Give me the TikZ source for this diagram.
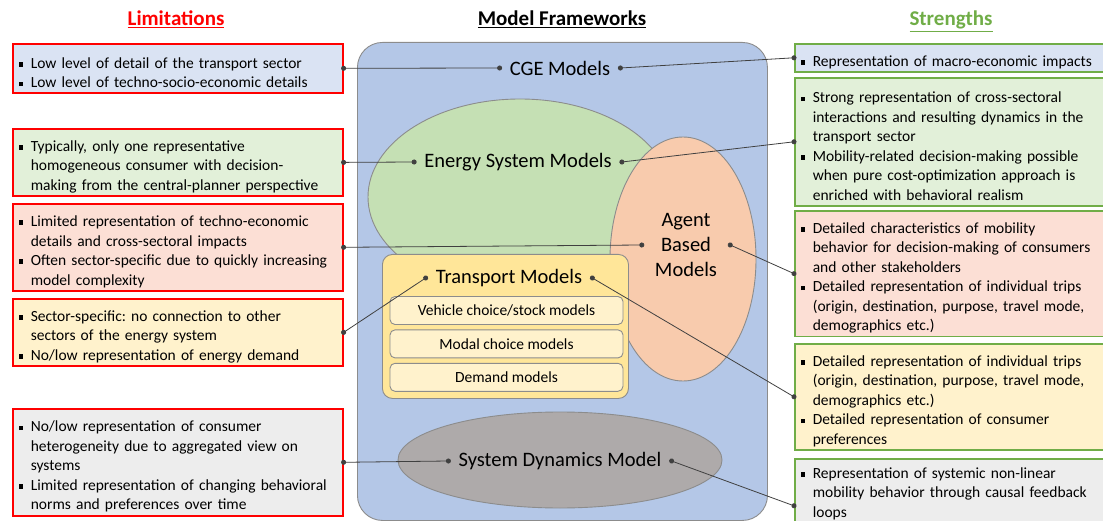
\documentclass[tikz,border=0pt]{standalone}
\usepackage{fontspec}
\setmainfont{Carlito}
\usepackage{xcolor}
\usepackage{tikz}
\usetikzlibrary{arrows.meta,positioning,shapes.geometric}
\frenchspacing
\definecolor{limred}{HTML}{FF0000}
\definecolor{strgreen}{HTML}{70AD47}
\definecolor{cgefill}{HTML}{DAE3F3}
\definecolor{esmfill}{HTML}{E2F0D9}
\definecolor{abmfill}{HTML}{FCDFD5}
\definecolor{tmfill}{HTML}{FFF2CC}
\definecolor{sdmfill}{HTML}{EDEDED}
\definecolor{frameblue}{HTML}{B4C7E7}
\definecolor{esmgreen}{HTML}{C5E0B4}
\definecolor{abmorange}{HTML}{F8CBAD}
\definecolor{tmyellow}{HTML}{FFE699}
\definecolor{sdmgray}{HTML}{AEAAAA}
\definecolor{edgegray}{HTML}{8C8C8C}
\definecolor{linkgray}{HTML}{404040}
% bullet line and indented continuation line
\newcommand{\bul}{\par\noindent\makebox[12pt][l]{\rule[1.6pt]{4.6pt}{4.6pt}}}
\newcommand{\cnt}{\par\noindent\hspace*{12pt}}

\begin{document}
\begin{tikzpicture}[
  x=1pt, y=-1pt,
  heading/.style={anchor=base, font=\fontsize{21}{25}\selectfont\bfseries},
  limbox/.style={rectangle, draw=limred, line width=1.6pt, anchor=north west,
                 text width=318pt, inner xsep=6pt, inner ysep=3pt, align=left,
                 font=\fontsize{15.5}{19.5}\selectfont},
  strbox/.style={limbox, draw=strgreen, text width=312pt},
  outline/.style={draw=edgegray, line width=0.9pt},
  model/.style={inner xsep=10pt, inner ysep=2pt, font=\fontsize{20.5}{25}\selectfont},
  sub/.style={rectangle, rounded corners=5pt, draw=edgegray, line width=0.9pt, fill=tmfill,
              minimum width=233pt, minimum height=28pt, inner sep=0pt,
              font=\fontsize{15.5}{19.5}\selectfont},
  link/.style={{Circle[length=5pt]}-{Circle[length=5pt]}, shorten <=-2.5pt, shorten >=-2.5pt,
               draw=linkgray, line width=0.8pt}
]
  \useasboundingbox (0,0) rectangle (1103,521);

  % headings
  \node[heading, text=limred] (hlim) at (176,26) {\underline{Limitations}};
  \node[heading] (hfw) at (562,26) {\underline{Model Frameworks}};
  \node[heading, text=strgreen] (hstr) at (951,26) {\underline{Strengths}};

  % model frameworks
  \node[outline, rectangle, rounded corners=25pt, fill=frameblue, anchor=north west,
        minimum width=410pt, minimum height=478pt] (fw) at (357,42) {};
  \node[outline, ellipse, fill=esmgreen, minimum width=304pt, minimum height=196pt] (esmshape) at (520,197) {};
  \node[outline, ellipse, fill=abmorange, minimum width=146pt, minimum height=244pt] (abmshape) at (683,259) {};
  \node[outline, rectangle, rounded corners=10pt, fill=tmyellow, anchor=north west,
        minimum width=246pt, minimum height=144pt] (tmshape) at (382,254) {};
  \node[outline, ellipse, fill=sdmgray, minimum width=324pt, minimum height=96pt] (sdmshape) at (560,460) {};

  \node[model] (cge) at (560,68) {CGE Models};
  \node[model] (esm) at (518,162) {Energy System Models};
  \node[model, align=center, inner xsep=13pt] (abm) at (686,245) {Agent\\Based\\Models};
  \node[model] (tm) at (509,278) {Transport Models};
  \node[model] (sdm) at (560,461) {System Dynamics Model};

  \node[sub] (veh) at (506.5,310.5) {Vehicle choice/stock models};
  \node[sub, below=4.5pt of veh] (modal) {Modal choice models};
  \node[sub, below=4.5pt of modal] (dem) {Demand models};

  % limitations
  \node[limbox, fill=cgefill, minimum height=49pt] (lim1) at (12,43)
    {\bul Low level of detail of the transport sector
     \bul Low level of techno-socio-economic details};
  \node[limbox, fill=esmfill, minimum height=66pt] (lim2) at (12,128)
    {\bul Typically, only one representative\cnt homogeneous consumer with decision-\cnt making from the central-planner perspective};
  \node[limbox, fill=abmfill, minimum height=87pt] (lim3) at (12,203)
    {\bul Limited representation of techno-economic\cnt details and cross-sectoral impacts
     \bul Often sector-specific due to quickly increasing\cnt model complexity};
  \node[limbox, fill=tmfill, minimum height=66pt] (lim4) at (12,298)
    {\bul Sector-specific: no connection to other\cnt sectors of the energy system
     \bul No/low representation of energy demand};
  \node[limbox, fill=sdmfill, minimum height=107pt] (lim5) at (12,408)
    {\bul No/low representation of consumer\cnt heterogeneity due to aggregated view on\cnt systems
     \bul Limited representation of changing behavioral\cnt norms and preferences over time};

  % strengths
  \node[strbox, fill=cgefill, minimum height=26pt] (str1) at (794,43)
    {\bul Representation of macro-economic impacts};
  \node[strbox, fill=esmfill, minimum height=128pt] (str2) at (794,77)
    {\bul Strong representation of cross-sectoral\cnt interactions and resulting dynamics in the\cnt transport sector
     \bul Mobility-related decision-making possible\cnt when pure cost-optimization approach is\cnt enriched with behavioral realism};
  \node[strbox, fill=abmfill, minimum height=125pt] (str3) at (794,210)
    {\bul Detailed characteristics of mobility\cnt behavior for decision-making of consumers\cnt and other stakeholders
     \bul Detailed representation of individual trips\cnt (origin, destination, purpose, travel mode,\cnt demographics etc.)};
  \node[strbox, fill=tmfill, minimum height=106pt] (str4) at (794,343)
    {\bul Detailed representation of individual trips\cnt (origin, destination, purpose, travel mode,\cnt demographics etc.)
     \bul Detailed representation of consumer\cnt preferences};
  \node[strbox, fill=sdmfill, inner ysep=0pt] (str5) at (794,458)
    {\bul Representation of systemic non-linear\cnt mobility behavior through causal feedback\cnt loops
     \par\noindent\rule{0pt}{32pt}};

  % connectors
  \draw[link] (lim1.east) -- (cge.west);
  \draw[link] (cge.east) -- (str1.west);
  \draw[link] (lim2.east) -- (esm.west);
  \draw[link] (esm.east) -- (str2.west);
  \draw[link] (lim3.east) -- (abm.west);
  \draw[link] (abm.east) -- (str3.west);
  \draw[link] (lim4.east) -- (tm.west);
  \draw[link] (tm.east) -- (str4.west);
  \draw[link] (lim5.east) -- (sdm.west);
  \draw[link] (sdm.east) -- (str5.west);
\end{tikzpicture}
\end{document}
